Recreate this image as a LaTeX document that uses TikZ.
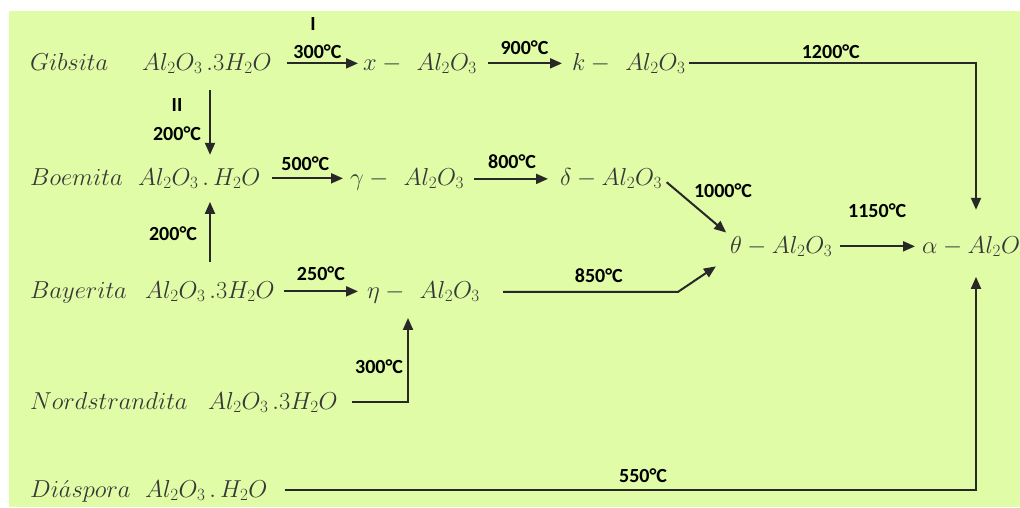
\RequirePackage{fix-cm}
\documentclass[tikz,border=0pt]{standalone}
\usepackage{fontspec}
\newfontfamily\labfont{Carlito}
\usetikzlibrary{arrows.meta,calc}
\definecolor{bg}{RGB}{224,252,166}
\definecolor{txt}{RGB}{55,55,55}
\definecolor{ln}{RGB}{40,40,40}
\begin{document}
\begin{tikzpicture}[x=1pt,y=-1pt,
  every node/.style={inner sep=0pt, text=txt},
  chem/.style={anchor=base west, font=\fontsize{24.5}{28}\selectfont},
  lab/.style={font=\labfont\bfseries\fontsize{20}{24}\selectfont, text=black},
  con/.style={line width=2pt, draw=ln},
  arr/.style={con, -{Triangle[length=12pt,width=10pt]}},
]
\useasboundingbox (0,0) rectangle (1020,507);
\clip (0,0) rectangle (1020,507);
\fill[bg] (9,11) rectangle (1020,507);

% nodes
\node[chem] (gibN) at (30,70) {$Gibsita$};
\node[chem] (gibF) at (142,70) {$Al_2O_3\,.3H_2O$};
\node[chem] (xal) at (363,70) {$x-\hspace{0.4em}Al_2O_3$};
\node[chem] (kal) at (572,70) {$k-\hspace{0.4em}Al_2O_3$};
\node[chem] (boeN) at (30,185) {$Boemita$};
\node[chem] (boeF) at (138,185) {$Al_2O_3\,.\,H_2O$};
\node[chem] (gam) at (350,185) {$\gamma-\hspace{0.4em}Al_2O_3$};
\node[chem] (del) at (560,185) {$\delta-Al_2O_3$};
\node[chem] (the) at (730,253) {$\theta-Al_2O_3$};
\node[chem] (alp) at (922,253) {$\alpha-Al_2O_3$};
\node[chem] (bayN) at (30,298) {$Bayerita$};
\node[chem] (bayF) at (145,298) {$Al_2O_3\,.3H_2O$};
\node[chem] (eta) at (367,298) {$\eta-\hspace{0.4em}Al_2O_3$};
\node[chem] (norN) at (30,409) {$Nordstrandita$};
\node[chem] (norF) at (208,409) {$Al_2O_3\,.3H_2O$};
\node[chem] (diaN) at (30,497) {$Di\acute{a}spora$};
\node[chem] (diaF) at (145,497) {$Al_2O_3\,.\,H_2O$};

\coordinate (v1) at (210,0);
\coordinate (v2) at (408,0);
\coordinate (v3) at (976,0);
\coordinate (c850) at (678,292);

% row 1
\draw[arr, shorten <=15pt, shorten >=5pt] (gibF.east) -- (gibF.east -| xal.west)
  node[lab, midway, above=4pt] (l300a) {300°C};
\node[lab] (lI) at (313,24) {I};
\draw[arr, shorten <=11pt, shorten >=10pt] (xal.east) -- (xal.east -| kal.west)
  node[lab, midway, above=8pt] (l900) {900°C};
\draw[arr, shorten <=3pt, shorten >=26pt] (kal.east) -| (v3 |- alp.north)
  node[lab, pos=0.25, above=4pt] (l1200) {1200°C};

% Gibsita -> Boemita
\draw[arr, shorten <=16pt, shorten >=13pt] (v1 |- gibF.south) -- (v1 |- boeF.north);
\node[lab] (lII) at (177,105) {II};
\node[lab] (l200a) at (177,134) {200°C};

% row 2
\draw[arr, shorten <=11pt, shorten >=7pt] (boeF.east) -- (boeF.east -| gam.west)
  node[lab, midway, above=7pt] (l500) {500°C};
\draw[arr, shorten <=10pt, shorten >=12pt] (gam.east) -- (gam.east -| del.west)
  node[lab, midway, above=9pt] (l800) {800°C};
\draw[arr, shorten <=6pt, shorten >=5pt] (del.east) -- (the.north west);
\node[lab] (l1000) at (723,191) {1000°C};
\draw[arr, shorten <=8pt, shorten >=7pt] (the.east) -- (the.east -| alp.west)
  node[lab, midway, above=28pt] (l1150) {1150°C};

% Bayerita -> Boemita
\draw[arr, shorten <=19pt, shorten >=13pt] (v1 |- bayF.north) -- (v1 |- boeF.south);
\node[lab] (l200b) at (173,234) {200°C};

% row 3
\draw[arr, shorten <=9pt, shorten >=9pt] (bayF.east) -- (bayF.east -| eta.west)
  node[lab, midway, above=10pt] (l250) {250°C};
\draw[arr, shorten <=23pt, shorten >=17pt] (eta.east) --
  node[lab, pos=0.6, above=8pt] (l850) {850°C} (eta.east -| c850) -- (the.south west);

% Nordstrandita
\draw[arr, shorten <=14pt, shorten >=15pt] (norF.east) -| (v2 |- eta.south)
  node[lab, pos=0.68, left=4pt] (l300b) {300°C};

% Diaspora
\draw[arr, shorten <=17pt, shorten >=20pt] (diaF.east) -| (v3 |- alp.south)
  node[lab, pos=0.265, above=7pt] (l550) {550°C};
\end{tikzpicture}
\end{document}
